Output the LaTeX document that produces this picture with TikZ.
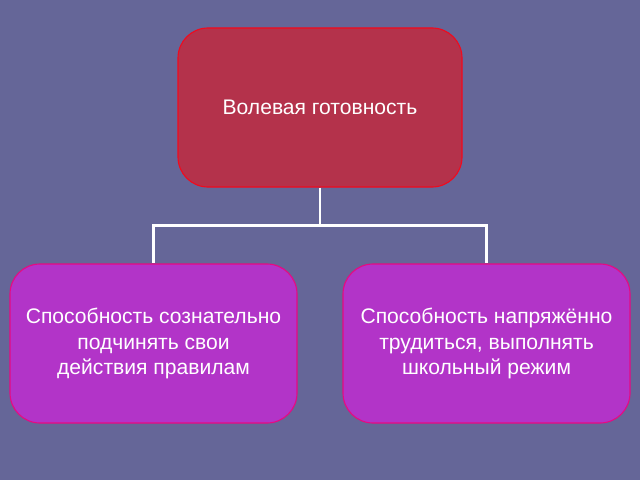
\documentclass[tikz,border=0pt]{standalone}
\usepackage{fontspec}
\setmainfont{Liberation Sans}
\usetikzlibrary{positioning}
\definecolor{bgcolor}{RGB}{101, 102, 152}
\definecolor{topcolor}{RGB}{180, 50, 75}
\definecolor{topborder}{RGB}{240, 10, 30}
\definecolor{subcolor}{RGB}{178, 52, 200}
\definecolor{subborder}{RGB}{230, 10, 130}
\tikzstyle{mainbox} = [rectangle, rounded corners=0.75cm, minimum width=7.1cm, minimum height=3.975cm, align=center, draw=topborder, fill=topcolor, thick, text=white, font=\fontsize{15}{18}\selectfont]
\tikzstyle{subbox} = [rectangle, rounded corners=0.75cm, minimum width=7.175cm, minimum height=3.975cm, align=center, draw=subborder, fill=subcolor, thick, text=white, font=\fontsize{15}{18}\selectfont]
\tikzstyle{link} = [draw=white, line width=2pt]
\begin{document}
\begin{tikzpicture}
\fill[bgcolor] (0,0) rectangle (16,12);
\useasboundingbox (0,0) rectangle (16,12);

% Boxes
\node (top) [mainbox] at (8,9.3125) {Волевая готовность};
\node (left) [subbox] at (3.8375,3.4125) {Способность сознательно\\подчинять свои\\действия правилам};
\node (right) [subbox] at (12.1625,3.4125) {Способность напряжённо\\трудиться, выполнять\\школьный режим};

% Links
\draw [link] (top.south) -- ++(0,-0.95) coordinate (mid);
\draw [link] (mid) -| (left.north);
\draw [link] (mid) -| (right.north);

\end{tikzpicture}
\end{document}
